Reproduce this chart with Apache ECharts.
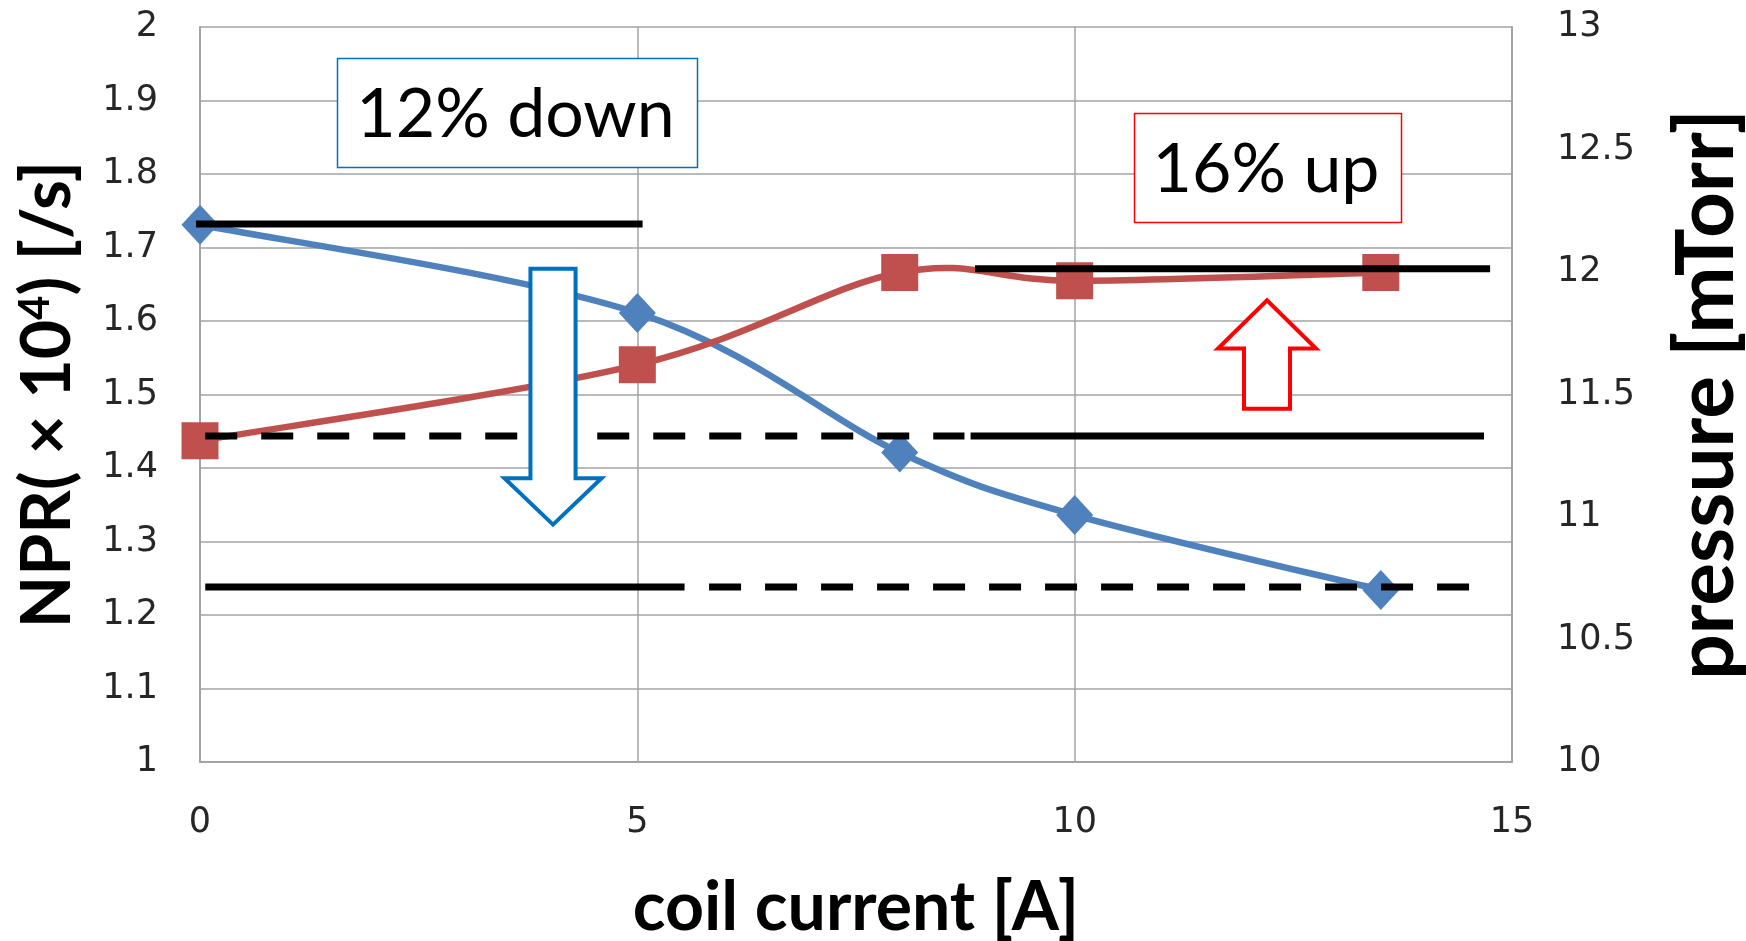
<!DOCTYPE html>
<html>
<head>
<meta charset="utf-8">
<title>NPR and pressure vs coil current</title>
<script src="https://cdn.jsdelivr.net/npm/echarts@6/dist/echarts.min.js"></script>
<style>
  html, body { margin: 0; padding: 0; background: #ffffff; }
  #chart { width: 1746px; height: 941px; }
</style>
</head>
<body>
<div id="chart"></div>
<script>
// Coil current settings [A]
const coilCurrent = [0, 5, 8, 10, 13.5];
// Normalized production rate (x10^4 /s), left axis
const npr = [1.731, 1.611, 1.421, 1.336, 1.234];
// Chamber pressure [mTorr], right axis
const pressure = [11.311, 11.621, 11.998, 11.964, 11.998];

// Tick labels
const xTickLabels = ['0', '5', '10', '15'];
const nprTickLabels = ['1', '1.1', '1.2', '1.3', '1.4', '1.5', '1.6', '1.7', '1.8', '1.9', '2'];
const pressureTickLabels = ['10', '10.5', '11', '11.5', '12', '12.5', '13'];

// Reference levels: NPR at start/end of sweep, pressure at start/end of sweep
const nprLevels = [1.732, 1.238];
const pressureLevels = [11.331, 12.013];

// Annotation texts
const downText = '12% down';
const upText = '16% up';

const BLUE = '#4f81bd';
const RED = '#c0504d';
const GRID = '#a3a3a3';
const TICK_FONT = 'DejaVu Sans';
const TITLE_FONT = 'Lato';

const chart = echarts.init(document.getElementById('chart'), null, { renderer: 'canvas' });

function tickFormatter(labels, min, step) {
  return function (v) {
    const i = Math.round((v - min) / step);
    return labels[i] !== undefined ? labels[i] : '';
  };
}

function levelLine(yAxisIndex, level, x0, x1, dashed) {
  return {
    type: 'line',
    yAxisIndex: yAxisIndex,
    data: [[x0, level], [x1, level]],
    symbol: 'none',
    clip: false,
    silent: true,
    z: 5,
    lineStyle: { color: '#000000', width: 7, type: dashed ? [32, 24] : 'solid', cap: 'butt' }
  };
}

// Smoothed connecting curve (cardinal spline through the data points, drawn segment by segment)
function smoothCurve(yAxisIndex, xs, ys, color) {
  return {
    type: 'custom',
    coordinateSystem: 'cartesian2d',
    yAxisIndex: yAxisIndex,
    data: xs.map((x, i) => [x, ys[i]]),
    encode: { x: 0, y: 1 },
    clip: false,
    silent: true,
    z: 3,
    renderItem: function (params, api) {
      const i = params.dataIndex;
      if (i >= xs.length - 1) return null;
      const p = (k) => api.coord([xs[Math.max(0, Math.min(xs.length - 1, k))],
                                  ys[Math.max(0, Math.min(xs.length - 1, k))]]);
      const p0 = p(i - 1), p1 = p(i), p2 = p(i + 1), p3 = p(i + 2);
      return {
        type: 'bezierCurve',
        shape: {
          x1: p1[0], y1: p1[1], x2: p2[0], y2: p2[1],
          cpx1: p1[0] + (p2[0] - p0[0]) / 6, cpy1: p1[1] + (p2[1] - p0[1]) / 6,
          cpx2: p2[0] - (p3[0] - p1[0]) / 6, cpy2: p2[1] - (p3[1] - p1[1]) / 6
        },
        style: { stroke: color, lineWidth: 6.5, fill: null, lineCap: 'round' }
      };
    }
  };
}

function markers(yAxisIndex, xs, ys, color, symbol, size) {
  return {
    type: 'scatter',
    yAxisIndex: yAxisIndex,
    data: xs.map((x, i) => [x, ys[i]]),
    symbol: symbol,
    symbolSize: size,
    clip: false,
    silent: true,
    z: 4,
    itemStyle: { color: color, opacity: 1 }
  };
}

const option = {
  animation: false,
  backgroundColor: '#ffffff',
  grid: { left: 200, right: 234, top: 27, bottom: 179, containLabel: false, outerBoundsMode: 'none' },
  xAxis: {
    type: 'value',
    min: 0, max: 15, interval: 5,
    name: 'coil current [A]',
    nameLocation: 'middle',
    nameGap: 112,
    nameTextStyle: { fontFamily: TITLE_FONT, fontWeight: 'bold', fontSize: 68, color: '#000000' },
    axisLine: { show: true, lineStyle: { color: GRID, width: 2 } },
    axisTick: { show: false },
    axisLabel: { margin: 43, fontFamily: TICK_FONT, fontSize: 35, color: '#262626',
      formatter: tickFormatter(xTickLabels, 0, 5) },
    splitLine: { show: true, lineStyle: { color: GRID, width: 1.5 } }
  },
  yAxis: [
    {
      type: 'value',
      position: 'left',
      min: 1, max: 2, interval: 0.1,
      name: 'NPR( × 10{sup|4}) [/s]',
      nameLocation: 'middle',
      nameRotate: 90,
      nameGap: 118,
      nameTextStyle: {
        fontFamily: TITLE_FONT, fontWeight: 'bold', fontSize: 68, color: '#000000',
        rich: {
          sup: { fontFamily: TITLE_FONT, fontWeight: 'bold', fontSize: 42, color: '#000000',
                 verticalAlign: 'top', lineHeight: 60 }
        }
      },
      axisLine: { show: true, lineStyle: { color: GRID, width: 2 } },
      axisTick: { show: false },
      axisLabel: { margin: 42, fontFamily: TICK_FONT, fontSize: 35, color: '#262626',
        padding: [12, 0, 0, 0],
        formatter: tickFormatter(nprTickLabels, 1, 0.1) },
      splitLine: { show: true, lineStyle: { color: GRID, width: 1.5 } }
    },
    {
      type: 'value',
      position: 'right',
      min: 10, max: 13, interval: 0.5,
      name: 'pressure [mTorr]',
      nameLocation: 'middle',
      nameRotate: 90,
      nameGap: 155,
      nameTextStyle: { fontFamily: TITLE_FONT, fontWeight: 'bold', fontSize: 80, color: '#000000' },
      axisLine: { show: true, lineStyle: { color: GRID, width: 2 } },
      axisTick: { show: false },
      axisLabel: { margin: 45, fontFamily: TICK_FONT, fontSize: 35, color: '#262626',
        padding: [12, 0, 0, 0],
        formatter: tickFormatter(pressureTickLabels, 10, 0.5) },
      splitLine: { show: false }
    }
  ],
  series: [
    smoothCurve(0, coilCurrent, npr, BLUE),
    smoothCurve(1, coilCurrent, pressure, RED),
    markers(0, coilCurrent, npr, BLUE, 'diamond', [37, 40]),
    markers(1, coilCurrent, pressure, RED, 'rect', 37),
    // start NPR level
    levelLine(0, nprLevels[0], -0.1, 5.06, false),
    // end NPR level: solid then dashed
    levelLine(0, nprLevels[1], 0.06, 5.54, false),
    levelLine(0, nprLevels[1], 5.82, 14.51, true),
    // start pressure level: dashed then solid
    levelLine(1, pressureLevels[0], 0.06, 8.74, true),
    levelLine(1, pressureLevels[0], 8.81, 14.68, false),
    // end pressure level
    levelLine(1, pressureLevels[1], 8.86, 14.75, false)
  ]
};

chart.setOption(option);

// Annotation shapes, placed in data units of the x axis and the left axis
function toPx(x, y) {
  return chart.convertToPixel({ xAxisIndex: 0, yAxisIndex: 0 }, [x, y]);
}

function boxGraphics(x0, y0, x1, y1, color, text) {
  const a = toPx(x0, y0), b = toPx(x1, y1);
  const left = Math.round(a[0]) + 0.5, top = Math.round(a[1]) + 0.5;
  const w = Math.round(b[0] - a[0]), h = Math.round(b[1] - a[1]);
  return [
    { type: 'rect', z: 20, shape: { x: left, y: top, width: w, height: h },
      style: { fill: '#ffffff', stroke: color, lineWidth: 1.5 } },
    { type: 'text', z: 21, x: left + w / 2 - 2, y: top + h / 2 + 2,
      style: { text: text, fill: '#000000', fontFamily: TITLE_FONT, fontSize: 68,
               align: 'center', verticalAlign: 'middle' } }
  ];
}

function arrowGraphic(cx, yStart, yHead, yTip, shaftHalf, headHalf, color) {
  const pts = [
    [cx - shaftHalf, yStart], [cx + shaftHalf, yStart], [cx + shaftHalf, yHead],
    [cx + headHalf, yHead], [cx, yTip], [cx - headHalf, yHead], [cx - shaftHalf, yHead]
  ].map(p => toPx(p[0], p[1]));
  return { type: 'polygon', z: 22, shape: { points: pts },
           style: { fill: '#ffffff', stroke: color, lineWidth: 4, lineJoin: 'miter' } };
}

chart.setOption({
  graphic: [].concat(
    boxGraphics(1.566, 1.958, 5.682, 1.810, '#0070c0', downText),
    boxGraphics(10.678, 1.883, 13.731, 1.735, '#ff0000', upText),
    [arrowGraphic(4.036, 1.671, 1.386, 1.323, 0.258, 0.555, '#0070c0'),
     arrowGraphic(12.199, 1.4805, 1.5625, 1.628, 0.263, 0.56, '#ff0000')]
  )
});
</script>
</body>
</html>
